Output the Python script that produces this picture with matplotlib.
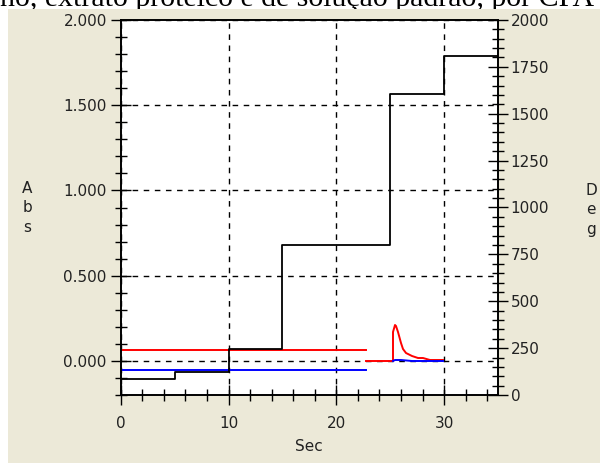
import matplotlib.pyplot as plt
from matplotlib.patches import Rectangle
from matplotlib.ticker import MultipleLocator, FuncFormatter

# temperature program (right axis, Deg)
step_t = [0, 5, 10, 15, 25, 30, 35]
step_deg = [85, 125, 245, 800, 1605, 1810, 1810]

# baselines before the run (left axis, Abs)
base_t = [0, 22.8]
red_base = [0.065, 0.065]
blue_base = [-0.055, -0.055]
gap_t = [22.8, 25.25]
red_gap = [0.0, 0.0]

# atomisation signal
red_t = [25.25, 25.3, 25.45, 25.55, 25.75, 25.97, 26.2, 26.5, 27.0, 27.6, 28.0, 28.7, 29.9]
red_abs = [0.0, 0.17, 0.21, 0.205, 0.167, 0.108, 0.067, 0.044, 0.028, 0.019, 0.015, 0.008, 0.003]
blue_t = [25.3, 25.4, 25.9, 26.0, 27.0, 29.9]
blue_abs = [0.0, 0.008, 0.008, 0.003, 0.002, 0.001]

W, H = 600, 463
fig = plt.figure(figsize=(W / 100, H / 100), dpi=100, facecolor='white')
fig.patches.append(Rectangle((8 / W, 0), 1, 1 - 9 / H, transform=fig.transFigure,
                             facecolor='#ECE9D8', edgecolor='none', zorder=-3))
fig.text(0, 1 - 6 / H, 'no, extrato protéico e de solução padrão, por CPA',
         family='Liberation Serif', fontsize=21.5, va='baseline', ha='left', zorder=-4)

left, right, bottom, top = 120.7, 498, 395, 20
ax = fig.add_axes([left / W, 1 - bottom / H, (right - left) / W, (bottom - top) / H])
ax2 = ax.twinx()

lw = 1.4
ax.plot(base_t, red_base, color='#FF0000', lw=lw, snap=True)
ax.plot(base_t, blue_base, color='#0000FF', lw=lw, snap=True)
ax.plot(gap_t, red_gap, color='#FF0000', lw=lw, snap=True)
ax.plot(red_t, red_abs, color='#FF0000', lw=lw, snap=True)
ax.plot(blue_t, blue_abs, color='#0000FF', lw=lw, snap=True)
ax2.step(step_t, step_deg, where='post', color='black', lw=1.3)

ax.set_xlim(0, 35)
ax.set_ylim(-0.2, 2.0)
ax2.set_ylim(0, 2000)

ax.xaxis.set_major_locator(MultipleLocator(10))
ax.xaxis.set_minor_locator(MultipleLocator(2))
ax.yaxis.set_major_locator(MultipleLocator(0.5))
ax.yaxis.set_minor_locator(MultipleLocator(0.1))
ax.yaxis.set_major_formatter(FuncFormatter(lambda v, p: f'{v:.3f}'))
ax2.yaxis.set_major_locator(MultipleLocator(250))
ax2.yaxis.set_minor_locator(MultipleLocator(50))

fs = 11
tick_font = dict(labelsize=fs, labelcolor='#222222', color='black', width=1)
ax.tick_params(axis='both', which='major', direction='inout', length=14, **tick_font)
ax.tick_params(axis='both', which='minor', direction='inout', length=9, width=1)
ax2.tick_params(axis='y', which='major', direction='inout', length=14, **tick_font)
ax2.tick_params(axis='y', which='minor', direction='inout', length=9, width=1)
ax.tick_params(axis='x', which='major', pad=8)
ax.tick_params(axis='y', which='major', pad=3)
ax2.tick_params(axis='y', which='major', pad=2)

ax.grid(True, which='major', color='black', linestyle=(0, (4, 4)), lw=1)
ax.set_axisbelow(True)
ax.set_facecolor('white')
for a in (ax, ax2):
    for s in a.spines.values():
        s.set_linewidth(1.2)

ax.set_xlabel('Sec', fontsize=fs, color='#222222', labelpad=6)
fig.text(27 / W, 1 - 208 / H, 'A\nb\ns', fontsize=fs, color='#222222',
         ha='center', va='center', linespacing=1.35)
fig.text(591 / W, 1 - 210 / H, 'D\ne\ng', fontsize=fs, color='#222222',
         ha='center', va='center', linespacing=1.35)

fig.savefig('out.png', dpi=100, facecolor=fig.get_facecolor())
